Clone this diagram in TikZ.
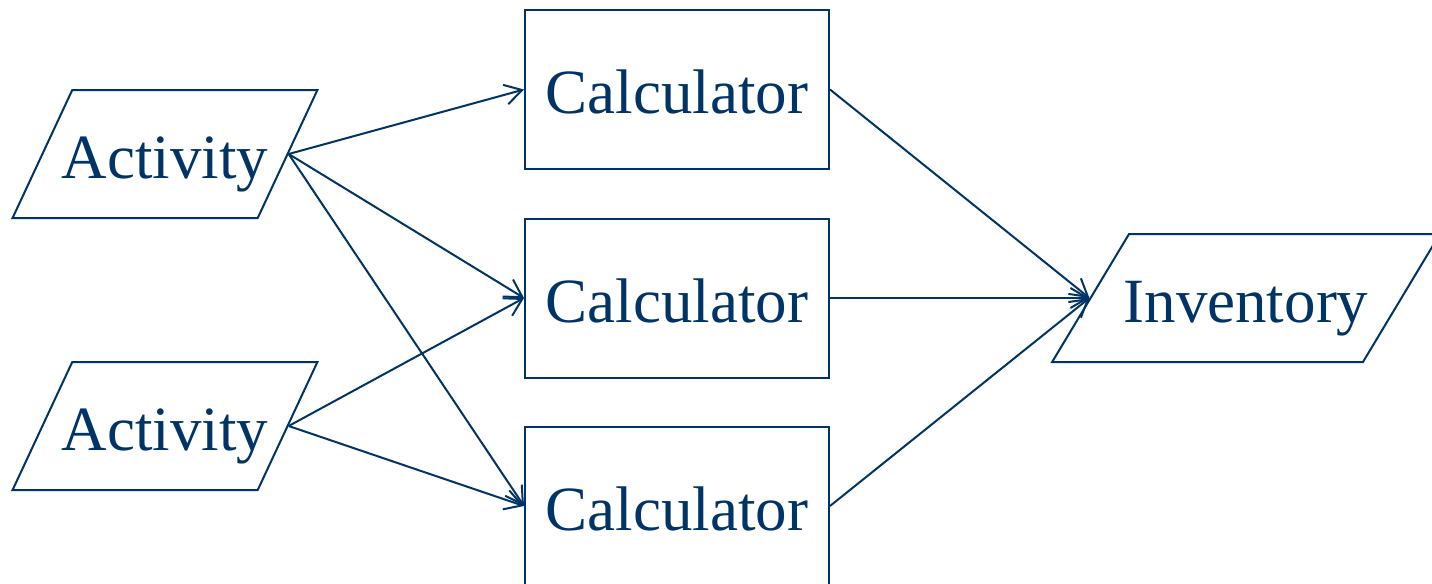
\documentclass[tikz,border=0pt]{standalone}
\usepackage{fontspec}
\setmainfont{Liberation Serif}
\usetikzlibrary{arrows.meta, shapes.geometric}
\definecolor{flowblue}{HTML}{003366}

\begin{document}
\begin{tikzpicture}[
    x=0.5pt, y=-0.5pt,
    line width=1pt, draw=flowblue,
    label/.style={font=\fontsize{31.5}{36}\selectfont, text=flowblue, text height=24pt, text depth=0pt},
    calcbox/.style={label, draw=flowblue, rectangle, inner sep=0pt, minimum width=152pt, minimum height=79.5pt},
    ioshape/.style={label, draw=flowblue, trapezium, trapezium left angle=#1, trapezium right angle=180-#1,
        trapezium stretches body=true, inner ysep=20pt},
    flow/.style={flowblue, -{Straight Barb[length=8.5pt, width=10pt]}},
]
    \useasboundingbox (0, 0) rectangle (1432, 584);

    % Inputs
    \node[ioshape=65, inner xsep=-5.25pt] (act1) at (165, 154) {Activity};
    \node[ioshape=65, inner xsep=-5.25pt] (act2) at (165, 426) {Activity};

    % Calculators
    \node[calcbox] (calc1) at (677, 89.5) {Calculator};
    \node[calcbox] (calc2) at (677, 298) {Calculator};
    \node[calcbox] (calc3) at (677, 506) {Calculator};

    % Output
    \node[ioshape=59, inner xsep=-2.75pt] (inv) at (1246, 298) {Inventory};

    % Connections
    \draw[flow] (act1.right side) -- (calc1.west);
    \draw[flow] (act1.right side) -- (calc2.west);
    \draw[flow] (act1.right side) -- (calc3.west);
    \draw[flow] (act2.right side) -- (calc2.west);
    \draw[flow] (act2.right side) -- (calc3.west);
    \draw[flow] (calc1.east) -- (inv.left side);
    \draw[flow] (calc2.east) -- (inv.left side);
    \draw[flow] (calc3.east) -- (inv.left side);
\end{tikzpicture}
\end{document}
